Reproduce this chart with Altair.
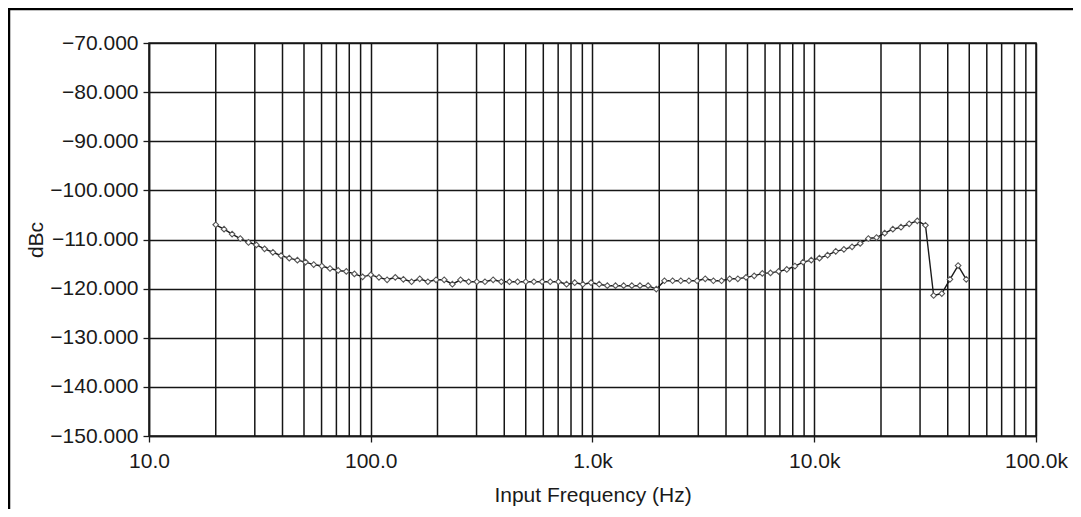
import altair as alt
import pandas as pd

# Frequency sweep points (Hz)
freq_hz = [20.0, 21.8, 23.7, 25.8, 28.1, 30.5, 33.2, 36.2, 39.4, 42.9,
           46.7, 50.8, 55.3, 60.2, 65.5, 71.3, 77.6, 84.4, 91.9, 100.0,
           108.9, 118.5, 129.0, 140.3, 152.8, 166.3, 181.0, 197.0, 214.4, 233.4,
           254.0, 276.4, 300.9, 327.4, 356.4, 387.9, 422.2, 459.5, 500.1, 544.3,
           592.4, 644.8, 701.8, 763.8, 831.3, 904.8, 984.8, 1071.9, 1166.6, 1269.7,
           1381.9, 1504.1, 1637.0, 1781.7, 1939.2, 2110.6, 2297.2, 2500.3, 2721.3, 2961.8,
           3223.6, 3508.5, 3818.6, 4156.2, 4523.5, 4923.4, 5358.6, 5832.2, 6347.7, 6908.8,
           7519.5, 8184.1, 8907.5, 9694.9, 10552, 11484, 12499, 13604, 14807, 16115,
           17540, 19090, 20778, 22614, 24613, 26789, 29157, 31734, 34539, 37592,
           40915, 44532, 48468]

# Measured level (dBc)
dbc = [-107.0, -107.9, -108.9, -109.8, -110.6, -111.1, -111.9, -112.6, -113.3, -113.8,
       -114.2, -114.6, -115.1, -115.4, -115.9, -116.3, -116.5, -117.0, -117.6, -117.2,
       -117.7, -118.2, -117.7, -118.1, -118.6, -118.0, -118.6, -118.2, -118.2,
       -119.1, -118.2, -118.6, -118.6, -118.6, -118.2, -118.6, -118.6, -118.6, -118.6,
       -118.6, -118.6, -118.6, -118.6, -119.1, -118.8, -119.1, -118.8, -119.1, -119.4,
       -119.4, -119.4, -119.4, -119.4, -119.4, -120.1, -118.4, -118.4, -118.4, -118.4,
       -118.4, -118.0, -118.4, -118.4, -118.0, -118.0,
       -117.7, -117.4, -116.9, -116.8, -116.5, -116.1, -115.4, -114.6, -114.2, -113.8,
       -113.2, -112.4, -112.0, -111.5, -110.8, -109.8, -109.6, -108.7, -107.9, -107.5,
       -106.8, -106.2, -107.1, -121.4, -121.0, -118.1, -115.3, -118.1]

x_major_hz = [10, 100, 1000, 10000, 100000]
x_minor_hz = [20, 30, 40, 50, 60, 70, 80, 90,
              200, 300, 400, 500, 600, 700, 800, 900,
              2000, 3000, 4000, 5000, 6000, 7000, 8000, 9000,
              20000, 30000, 40000, 50000, 60000, 70000, 80000, 90000]
y_ticks = [-150, -140, -130, -120, -110, -100, -90, -80, -70]

W, H = 887, 393
FONT = "Liberation Sans"
INK = "#1a1a1a"
GRID = "#151515"

df = pd.DataFrame({"freq": freq_hz, "dbc": dbc})
minor_df = pd.DataFrame({"freq": x_minor_hz})
one = pd.DataFrame({"a": [0]})

xscale = alt.Scale(type="log", domain=[10, 100000], nice=False)
yscale = alt.Scale(domain=[-150, -70], nice=False, zero=False)

x_axis = alt.Axis(
    values=x_major_hz,
    labelExpr="datum.value >= 1000 ? format(datum.value / 1000, '.1f') + 'k' : format(datum.value, '.1f')",
    labelFlush=False, labelOverlap=False, tickSize=6, labelPadding=8,
    grid=True, title="Input Frequency (Hz)", titleFontSize=21,
    titleX=W / 2, titleY=65, titleAlign="center", titleBaseline="alphabetic",
)
y_axis = alt.Axis(
    values=y_ticks,
    labelExpr="replace(format(datum.value, '.3f'), '-', '\u2013\u200a')",
    labelOverlap=False, tickSize=6, labelPadding=5, grid=True, title="dBc",
    titleAngle=270, titleX=-107, titleY=H / 2, titleAlign="center",
    titleBaseline="alphabetic",
)

X = alt.X("freq:Q", scale=xscale, axis=x_axis)
Y = alt.Y("dbc:Q", scale=yscale, axis=y_axis)

line = alt.Chart(df).mark_line(color=INK, strokeWidth=1.4).encode(x=X, y=Y)

minor = alt.Chart(minor_df).mark_rule(color=GRID, strokeWidth=1.5).encode(x=X)

pts = alt.Chart(df).mark_point(
    shape="diamond", filled=True, fill="white", stroke="#555555",
    strokeWidth=1.1, size=32, opacity=1
).encode(x=X, y=Y)

frame_top = alt.Chart(one).mark_rule(color="#000000", strokeWidth=2.5).encode(
    x=alt.value(-141), x2=alt.value(W + 40), y=alt.value(-34)
)
frame_left = alt.Chart(one).mark_rule(color="#000000", strokeWidth=2.5).encode(
    x=alt.value(-140), y=alt.value(-35), y2=alt.value(H + 80)
)

chart = alt.layer(line, minor, pts, frame_top, frame_left).properties(
    width=W, height=H,
    autosize=alt.AutoSizeParams(type="none"),
    padding={"left": 141, "top": 35, "right": 37, "bottom": 73},
).configure_view(
    stroke=INK, strokeWidth=1.5
).configure_axis(
    domainColor=INK, domainWidth=1.5, tickColor=INK, tickWidth=1.3,
    gridColor=GRID, gridWidth=1.5, gridOpacity=1,
    labelFont=FONT, labelFontSize=21, labelColor=INK,
    titleFont=FONT, titleFontSize=21, titleColor=INK, titleFontWeight="normal",
)

chart.save("out.html", embed_options={"renderer": "svg", "actions": False})
